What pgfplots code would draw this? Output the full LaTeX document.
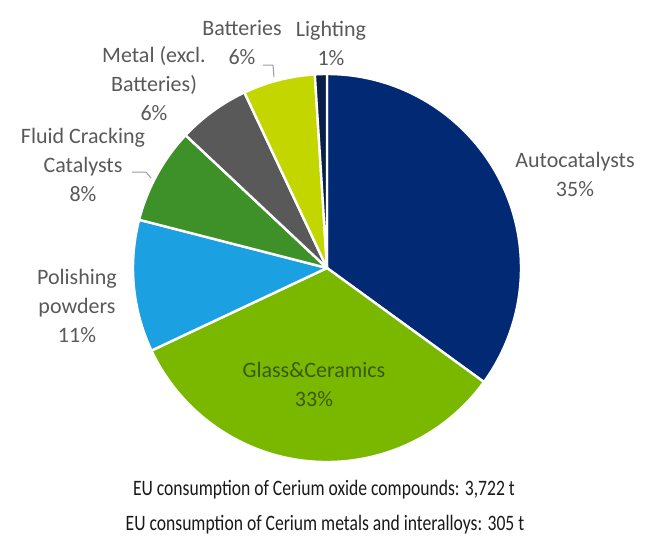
\documentclass[border=0pt]{standalone}
\usepackage{pgfplots}
\usepackage{pgfplotstable}
\pgfplotsset{compat=1.18}
\usepackage{fontspec}
\setmainfont{Carlito}

\definecolor{slice0}{HTML}{022A74}
\definecolor{slice1}{HTML}{7AB800}
\definecolor{slice2}{HTML}{1BA1E2}
\definecolor{slice3}{HTML}{3E9128}
\definecolor{slice4}{HTML}{595959}
\definecolor{slice5}{HTML}{C4D600}
\definecolor{slice6}{HTML}{0A1E46}
\definecolor{labelgray}{HTML}{595959}
\definecolor{innergreen}{HTML}{3A5A10}

% shares of EU cerium use, clockwise from 12 o'clock
\pgfplotstableread[col sep=comma]{
label,pct
Autocatalysts,35
Glass&Ceramics,33
Polishing powders,11
Fluid Cracking Catalysts,8
Metal (excl. Batteries),6
Batteries,6
Lighting,1
}\piedata

\tikzset{lbl/.style={font=\fontsize{11}{14.5}\selectfont, text=labelgray, align=center, inner sep=0pt}}

\begin{document}
\begin{tikzpicture}
\begin{axis}[
    x=0.5pt, y=0.5pt,
    xmin=0, xmax=645,
    ymin=0, ymax=538,
    hide axis,
    clip=false,
]
\path (axis cs:0,0) rectangle (axis cs:645,538);
\pgfmathsetmacro{\curangle}{90}
\pgfplotsforeachungrouped \i in {0,...,6}{%
    \pgfplotstablegetelem{\i}{pct}\of\piedata
    \let\p\pgfplotsretval
    \pgfmathsetmacro{\endangle}{\curangle - 3.6*\p}%
    \edef\temp{\noexpand\filldraw[fill=slice\i, draw=white, line width=1.2pt, line join=round]
        (axis cs:327,270) -- ++(\curangle:97pt)
        arc[start angle=\curangle, end angle=\endangle, radius=97pt] -- cycle;}%
    \temp
    \global\let\curangle\endangle
}

% leader lines
\draw[labelgray!60, line width=0.5pt] (axis cs:263,473) -- (axis cs:273,473) -- (axis cs:274,461);
\draw[labelgray!60, line width=0.5pt] (axis cs:132,366) -- (axis cs:146,366) -- (axis cs:151,360);

% slice labels
\node[lbl] at (axis cs:575,364) {Autocatalysts\\35\%};
\node[lbl, text=innergreen] at (axis cs:314,154) {Glass\&Ceramics\\33\%};
\node[lbl] at (axis cs:77,232) {Polishing\\powders\\11\%};
\node[lbl] at (axis cs:83,373) {Fluid Cracking\\Catalysts\\8\%};
\node[lbl] at (axis cs:154,454) {Metal (excl.\\Batteries)\\6\%};
\node[lbl] at (axis cs:242,495) {Batteries\\6\%};
\node[lbl] at (axis cs:331,495) {Lighting\\1\%};

% totals
\node[lbl, text=black!90] at (axis cs:324,48) {\scalebox{0.8}[1]{EU consumption of Cerium oxide compounds: 3,722 t}};
\node[lbl, text=black!90] at (axis cs:325,13) {\scalebox{0.8}[1]{EU consumption of Cerium metals and interalloys: 305 t}};
\end{axis}
\end{tikzpicture}
\end{document}
